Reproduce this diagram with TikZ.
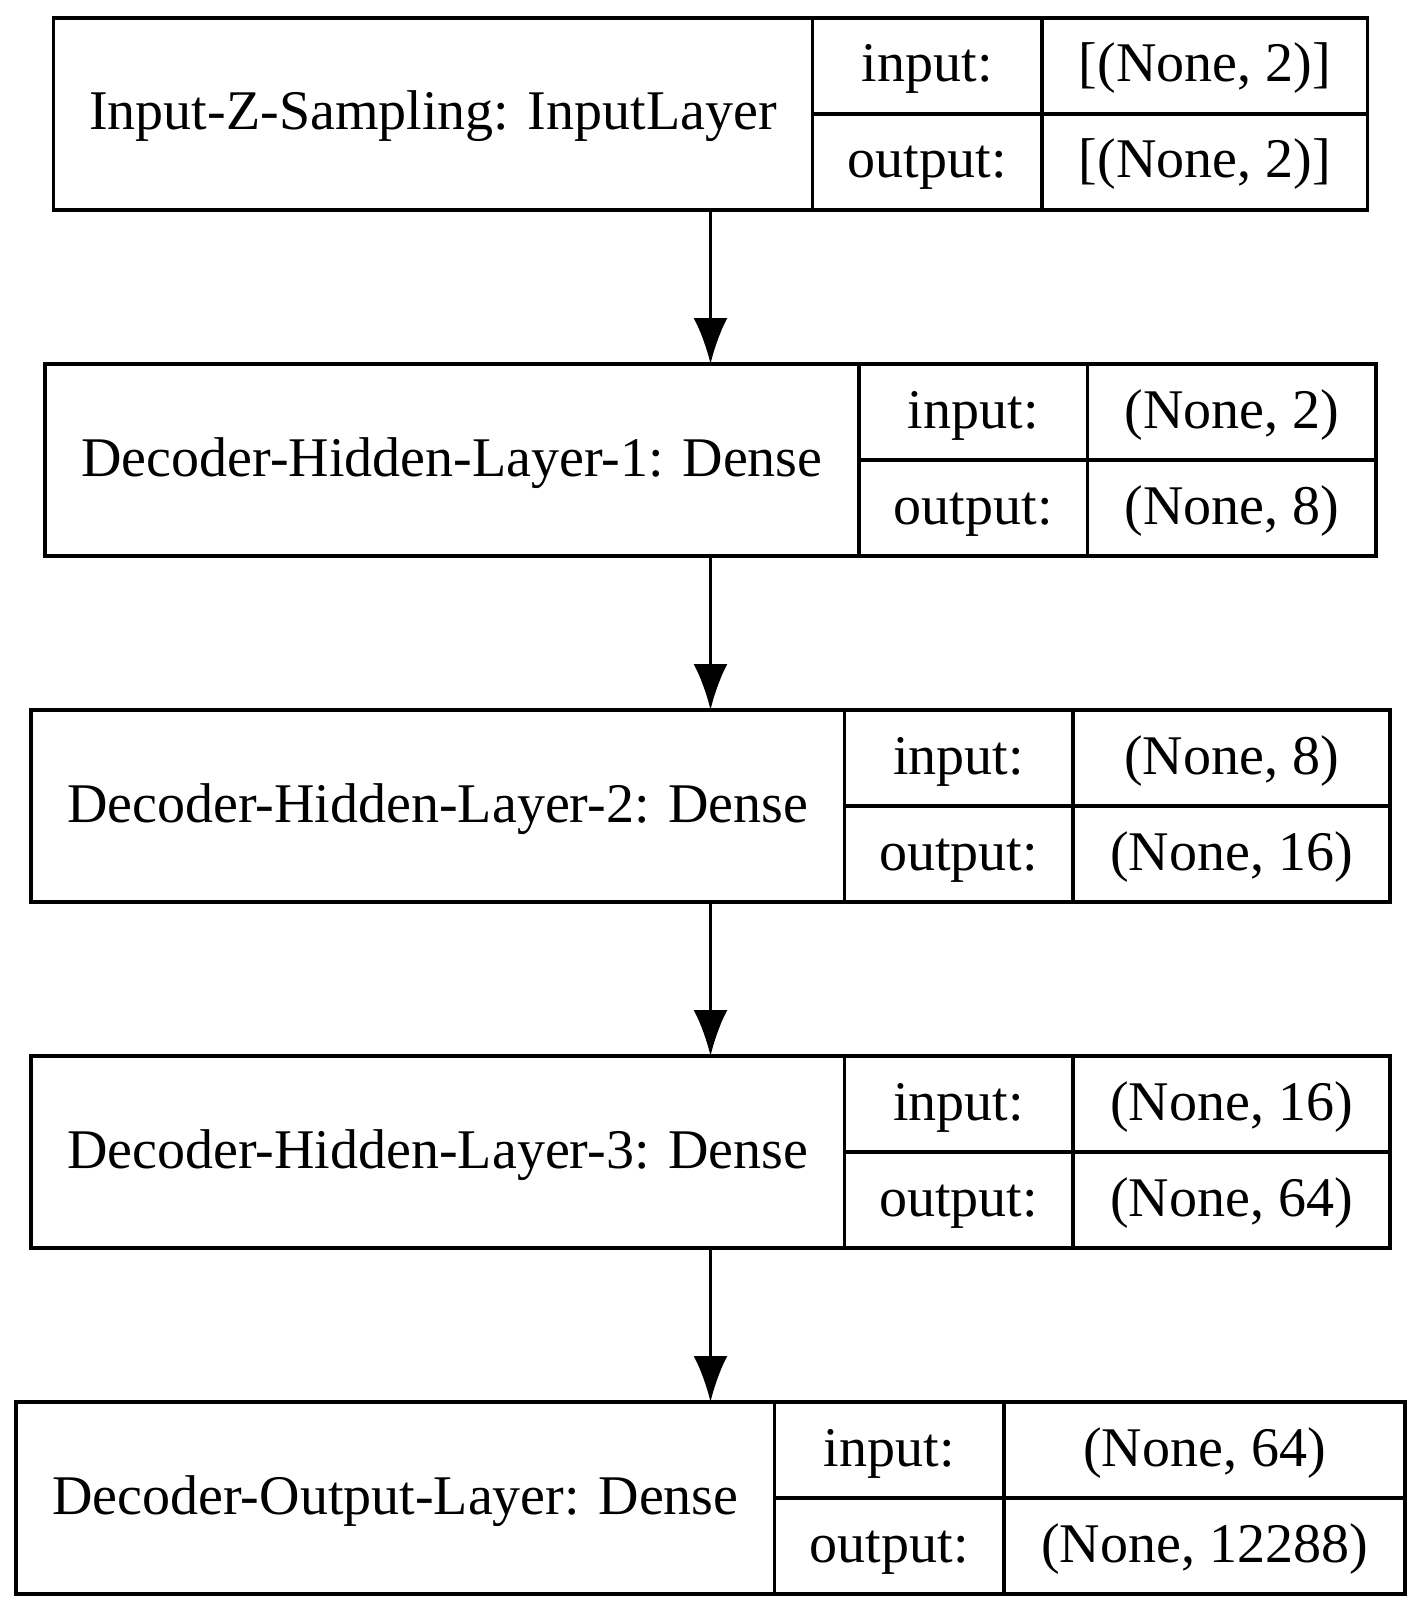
\documentclass[tikz,border=0pt]{standalone}
\usepackage{fontspec}
\setmainfont{Liberation Serif}
\usepackage{tikz}
\usetikzlibrary{arrows.meta}

\begin{document}
\begin{tikzpicture}[x=1pt,y=-1pt,
		layer/.style={draw, line width=3.4pt, inner sep=0pt, outer sep=0pt, minimum height=192pt},
		cell/.style={line width=3.4pt},
		txt/.style={inner sep=0pt, font=\fontsize{56}{67}\selectfont, text height=43pt, text depth=11pt},
		flow/.style={-{Latex[length=46pt,width=34pt]}, line width=3.4pt}]
		\useasboundingbox (0,0) rectangle (1421,1613);

		% Input-Z-Sampling
		\node[layer, minimum width=1314pt] at (710.5,114) (z) {};
		\draw[cell] (812.5,18) -- (812.5,210) (1042,18) -- (1042,210) (812.5,114) -- (1367.5,114);
		\node[txt] at (433,114) (zname) {Input-Z-Sampling: InputLayer};
		\node[txt] at (927.25,66) (zin) {input:};
		\node[txt] at (927.25,162) (zout) {output:};
		\node[txt] at (1204.75,66) (zinv) {[(None, 2)]};
		\node[txt] at (1204.75,162) (zoutv) {[(None, 2)]};

		% Decoder-Hidden-Layer-1
		\node[layer, minimum width=1331pt] at (710.5,460) (h1) {};
		\draw[cell] (859,364) -- (859,556) (1087.5,364) -- (1087.5,556) (859,460) -- (1376,460);
		\node[txt] at (452,460) (h1name) {Decoder-Hidden-Layer-1: Dense};
		\node[txt] at (973.25,412) (h1in) {input:};
		\node[txt] at (973.25,508) (h1out) {output:};
		\node[txt] at (1231.75,412) (h1inv) {(None, 2)};
		\node[txt] at (1231.75,508) (h1outv) {(None, 8)};

		% Decoder-Hidden-Layer-2
		\node[layer, minimum width=1359pt] at (710.5,806) (h2) {};
		\draw[cell] (844.5,710) -- (844.5,902) (1073,710) -- (1073,902) (844.5,806) -- (1390,806);
		\node[txt] at (437.75,806) (h2name) {Decoder-Hidden-Layer-2: Dense};
		\node[txt] at (958.75,758) (h2in) {input:};
		\node[txt] at (958.75,854) (h2out) {output:};
		\node[txt] at (1231.5,758) (h2inv) {(None, 8)};
		\node[txt] at (1231.5,854) (h2outv) {(None, 16)};

		% Decoder-Hidden-Layer-3
		\node[layer, minimum width=1359pt] at (710.5,1152) (h3) {};
		\draw[cell] (844.5,1056) -- (844.5,1248) (1073,1056) -- (1073,1248) (844.5,1152) -- (1390,1152);
		\node[txt] at (437.75,1152) (h3name) {Decoder-Hidden-Layer-3: Dense};
		\node[txt] at (958.75,1104) (h3in) {input:};
		\node[txt] at (958.75,1200) (h3out) {output:};
		\node[txt] at (1231.5,1104) (h3inv) {(None, 16)};
		\node[txt] at (1231.5,1200) (h3outv) {(None, 64)};

		% Decoder-Output-Layer
		\node[layer, minimum width=1389pt] at (710.5,1498) (o) {};
		\draw[cell] (774.5,1402) -- (774.5,1594) (1004,1402) -- (1004,1594) (774.5,1498) -- (1405,1498);
		\node[txt] at (395.5,1498) (oname) {Decoder-Output-Layer: Dense};
		\node[txt] at (889.25,1450) (oin) {input:};
		\node[txt] at (889.25,1546) (oout) {output:};
		\node[txt] at (1204.5,1450) (oinv) {(None, 64)};
		\node[txt] at (1204.5,1546) (ooutv) {(None, 12288)};

		\draw[flow] (z) -- (h1);
		\draw[flow] (h1) -- (h2);
		\draw[flow] (h2) -- (h3);
		\draw[flow] (h3) -- (o);

	\end{tikzpicture}
\end{document}
